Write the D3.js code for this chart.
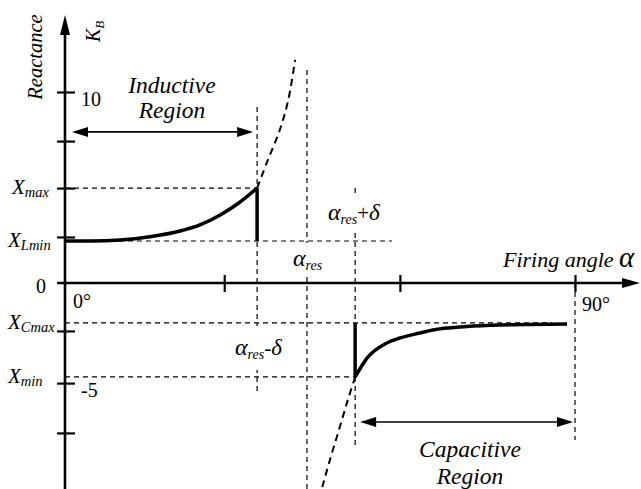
<!DOCTYPE html>
<html><head><meta charset="utf-8">
<script src="https://cdn.jsdelivr.net/npm/d3@7"></script>
<style>
body{margin:0;background:#fff}
</style>
</head><body>
<svg id="c" width="641" height="489"></svg>
<script>
// ---------------- data ----------------
const yTickValues = [10, 7.43, 4.97, 2.41, -2.51, -5.24, -7.85];
const yTickLabels = ["10", "", "", "", "", "-5", ""];
const xTickValues = [28.1, 59.1, 90];
const levelNames = ["max", "Lmin", "Cmax", "min"];
const levelValues = [4.97, 2.2, -2.09, -4.92];
const levelEnds = [33.9, 57.7, 86, 51.2];            // degrees where the dashed guide stops
const angleValues = [33.9, 42.7, 51.2, 90];           // αres-δ, αres, αres+δ, 90°
const angleTops = [9.21, 11.15, 4.97, 0];
const angleBottoms = [-5.71, -10.79, -8.48, -8.22];
const inductiveAngles = [0, 4.6, 9.7, 15.0, 20.3, 23.8, 27.4, 30.9, 33.9];
const inductiveValues = [2.2, 2.2, 2.25, 2.42, 2.72, 3.04, 3.56, 4.24, 4.97];
const inductiveExtAngles = [33.9, 35.8, 37.9, 39.4, 40.6];
const inductiveExtValues = [4.97, 6.44, 8.01, 9.58, 11.68];
const capacitiveAngles = [51.2, 53.3, 56.8, 59.1, 62.6, 64.9, 70.9, 76.8, 88.6];
const capacitiveValues = [-4.92, -3.93, -3.14, -2.88, -2.62, -2.46, -2.28, -2.2, -2.15];
const capacitiveExtAngles = [51.2, 49.9, 48.5, 46.9, 45.4];
const capacitiveExtValues = [-4.92, -6.13, -7.54, -9.11, -10.68];
const inductiveArrowValue = 7.91;
const capacitiveArrowValue = -7.28;

// ---------------- scales ----------------
const FONT = '"Liberation Serif", Tinos, "Times New Roman", serif';
const svg = d3.select("#c");
const x = d3.scaleLinear().domain([0, 90]).range([65, 575]);
const y = d3.scaleLinear().domain([0, 10]).range([283, 92]);
const X0 = x(0), Y0 = y(0);

// ---------------- dashed guides ----------------
const guides = svg.append("g").attr("stroke", "#000").attr("stroke-width", 1.2)
  .attr("stroke-dasharray", "5,4").attr("fill", "none");
levelValues.forEach((v, i) => {
  guides.append("line").attr("x1", X0).attr("x2", x(levelEnds[i]))
    .attr("y1", y(v)).attr("y2", y(v));
});
angleValues.forEach((a, i) => {
  guides.append("line").attr("x1", x(a)).attr("x2", x(a))
    .attr("y1", y(angleTops[i])).attr("y2", y(angleBottoms[i]));
});

// ---------------- curves ----------------
const line = d3.line().x(d => x(d[0])).y(d => y(d[1]));
const zip = (a, b) => a.map((d, i) => [d, b[i]]);
svg.append("path").datum(zip(inductiveExtAngles, inductiveExtValues))
  .attr("d", line.curve(d3.curveCatmullRom)).attr("fill", "none").attr("stroke", "#000")
  .attr("stroke-width", 2).attr("stroke-dasharray", "7,5");
svg.append("path").datum(zip(capacitiveExtAngles, capacitiveExtValues))
  .attr("d", line.curve(d3.curveCatmullRom)).attr("fill", "none").attr("stroke", "#000")
  .attr("stroke-width", 2).attr("stroke-dasharray", "7,5");
svg.append("path").datum(zip(inductiveAngles, inductiveValues))
  .attr("d", line.curve(d3.curveMonotoneX)).attr("fill", "none").attr("stroke", "#000")
  .attr("stroke-width", 3.5);
svg.append("path").datum(zip(capacitiveAngles, capacitiveValues))
  .attr("d", line.curve(d3.curveMonotoneX)).attr("fill", "none").attr("stroke", "#000")
  .attr("stroke-width", 3.5);
// vertical jumps
svg.append("line").attr("x1", x(angleValues[0])).attr("x2", x(angleValues[0]))
  .attr("y1", y(levelValues[0])).attr("y2", y(levelValues[1]))
  .attr("stroke", "#000").attr("stroke-width", 3.5);
svg.append("line").attr("x1", x(angleValues[2])).attr("x2", x(angleValues[2]))
  .attr("y1", y(levelValues[2])).attr("y2", y(levelValues[3]))
  .attr("stroke", "#000").attr("stroke-width", 3.5);

// ---------------- axes ----------------
const yAxis = svg.append("g").attr("transform", `translate(${X0},0)`)
  .call(d3.axisLeft(y).tickValues(yTickValues).tickSize(8).tickFormat(""));
yAxis.select(".domain").remove();
yAxis.selectAll(".tick text").remove();
yAxis.selectAll(".tick line").attr("x2", -8).attr("x1", 10).attr("stroke-width", 2.2);
const xAxis = svg.append("g").attr("transform", `translate(0,${Y0})`)
  .call(d3.axisBottom(x).tickValues(xTickValues).tickSize(9).tickFormat(""));
xAxis.select(".domain").remove();
xAxis.selectAll(".tick text").remove();
xAxis.selectAll(".tick line").attr("y1", -8).attr("y2", 9).attr("stroke-width", 2.2);

svg.append("line").attr("x1", X0).attr("x2", X0).attr("y1", 30).attr("y2", 489)
  .attr("stroke", "#000").attr("stroke-width", 2.6);
svg.append("path").attr("d", `M${X0},15 L${X0 - 5},35 L${X0 + 5},35 Z`).attr("fill", "#000");
svg.append("line").attr("x1", 57).attr("x2", 628).attr("y1", Y0).attr("y2", Y0)
  .attr("stroke", "#000").attr("stroke-width", 2.6);
svg.append("path").attr("d", `M640,${Y0} L622,${Y0 - 5} L622,${Y0 + 5} Z`).attr("fill", "#000");

// ---------------- region arrows ----------------
function dblArrow(x1, x2, yy) {
  svg.append("line").attr("x1", x1 + 10).attr("x2", x2 - 10).attr("y1", yy).attr("y2", yy)
    .attr("stroke", "#000").attr("stroke-width", 1.6);
  svg.append("path").attr("d", `M${x1},${yy} L${x1 + 16},${yy - 5} L${x1 + 16},${yy + 5} Z`);
  svg.append("path").attr("d", `M${x2},${yy} L${x2 - 16},${yy - 5} L${x2 - 16},${yy + 5} Z`);
}
dblArrow(X0 + 7, x(angleValues[0]) - 4, y(inductiveArrowValue));
dblArrow(x(angleValues[2]) + 5, x(90) - 2, y(capacitiveArrowValue));

// ---------------- text ----------------
function label(px, py, parts, opts = {}) {
  const t = svg.append("text").attr("x", px).attr("y", py)
    .style("font-family", FONT).attr("fill", "#000")
    .attr("text-anchor", opts.anchor || "start");
  if (opts.transform) t.attr("transform", opts.transform).attr("x", 0).attr("y", 0);
  parts.forEach(p => {
    const s = t.append("tspan").text(p.t).style("font-size", (p.s || 19) + "px")
      .style("font-style", p.i === false ? "normal" : "italic");
    if (p.dy) s.attr("dy", p.dy);
  });
  if (opts.bg) {
    const node = t.node();
    const b = node.getBBox();
    svg.insert("rect", () => node).attr("x", b.x - 2).attr("y", b.y - opts.bg)
      .attr("width", b.width + 4).attr("height", b.height + 2 * opts.bg).attr("fill", "#fff");
  }
  return t;
}
label(0, 0, [{t: "Reactance", s: 20.5}], {anchor: "middle", transform: "translate(42,57) rotate(-90)"});
label(0, 0, [{t: "K", s: 20}, {t: "B", s: 13, dy: 4}], {transform: "translate(100,42) rotate(-90)"});

yTickValues.forEach((v, i) => {
  if (yTickLabels[i]) label(X0 + 16, y(v) + 14, [{t: yTickLabels[i], s: 20, i: false}]);
});
label(X0 - 19, Y0 + 10, [{t: "0", s: 20, i: false}], {anchor: "end"});
label(X0 + 8, Y0 + 25, [{t: "0°", s: 20, i: false}]);
label(x(90) + 7, Y0 + 28, [{t: "90°", s: 20, i: false}]);

const levelLabelX = [12, 8, 8, 8];
levelValues.forEach((v, i) => {
  label(levelLabelX[i], y(v) + 6, [{t: "X", s: 21}, {t: levelNames[i], s: 14.5, dy: 3}]);
});

label(172, 93, [{t: "Inductive", s: 23.5}], {anchor: "middle"});
label(172, 118, [{t: "Region", s: 23.5}], {anchor: "middle"});
label(470, 457, [{t: "Capacitive", s: 23.5}], {anchor: "middle"});
label(470, 484, [{t: "Region", s: 23.5}], {anchor: "middle"});

label(503, 267, [{t: "Firing angle ", s: 22}, {t: "α", s: 29}]);

label(328, 220, [{t: "α", s: 24}, {t: "res", s: 14, dy: 4}, {t: "+", s: 21, dy: -4, i: false}, {t: "δ", s: 23}], {bg: 2});
label(293, 266, [{t: "α", s: 24}, {t: "res", s: 14, dy: 4}], {bg: 2});
label(235, 355, [{t: "α", s: 24}, {t: "res", s: 14, dy: 4}, {t: "-", s: 21, dy: -4, i: false}, {t: "δ", s: 23}], {bg: 8});
</script>
</body></html>
